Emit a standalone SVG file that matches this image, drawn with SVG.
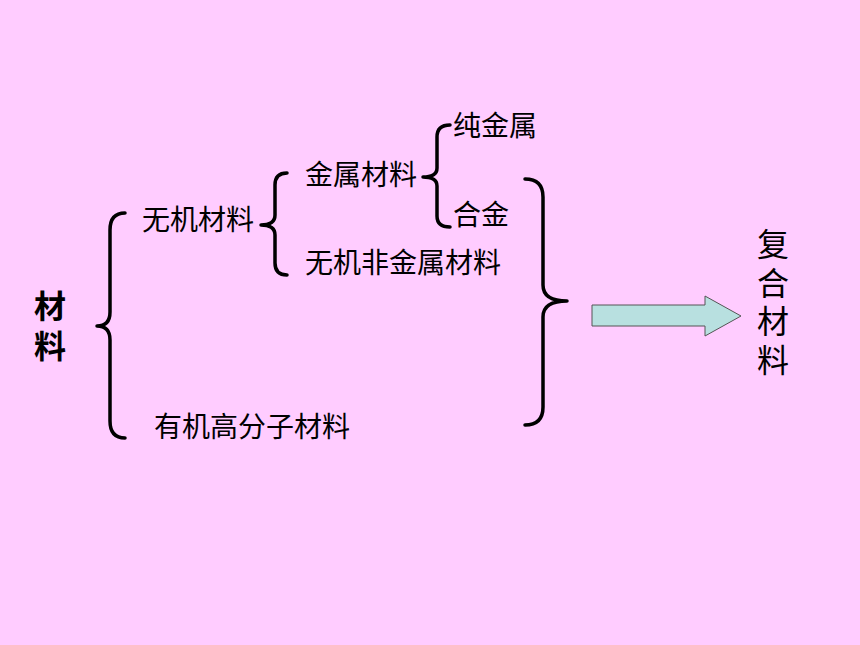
<svg xmlns="http://www.w3.org/2000/svg" width="860" height="645" viewBox="0 0 860 645">
<style>
.t{font-family:"Noto Sans CJK SC","Noto Sans CJK JP",sans-serif;font-size:28px;fill:#000}
.b{font-family:"Noto Sans CJK SC","Noto Sans CJK JP",sans-serif;font-size:32px;font-weight:bold;fill:#000;writing-mode:vertical-rl;letter-spacing:8px}
.v{font-family:"Noto Sans CJK SC","Noto Sans CJK JP",sans-serif;font-size:32px;fill:#000;writing-mode:vertical-rl;letter-spacing:6.5px}
.br{fill:none;stroke:#000;stroke-width:3.5;stroke-linecap:round;stroke-linejoin:round}
</style>
<rect width="860" height="645" fill="#FFCCFF"/>
<g id="connectors">
<path class="br" d="M125,213 Q110,213 110,230 L110,312 Q110,326 97,326 Q110,326 110,340 L110,421 Q110,438 125,438"/>
<path class="br" d="M287,173 Q275,173 275,185 L275,215 Q275,225 261,225 Q275,225 275,235 L275,263 Q275,275 287,275"/>
<path class="br" d="M450,125 Q437,125 437,137 L437,168 Q437,177 423,177 Q437,177 437,186 L437,216 Q437,227 450,227"/>
<path class="br" d="M525,179 Q543,179 543,197 L543,285 Q543,301 567,301 Q543,301 543,317 L543,407 Q543,425 525,425"/>
<polygon points="592,305 705,305 705,296 741,316 705,336 705,326 592,326" fill="#B8E0E0" stroke="#555" stroke-width="1"/>
</g>
<g id="n-cailiao"><text class="b" x="50" y="290">材料</text></g>
<g id="n-wuji"><text class="t" x="142" y="230">无机材料</text></g>
<g id="n-jinshu"><text class="t" x="305" y="185">金属材料</text></g>
<g id="n-chunjinshu"><text class="t" x="453" y="136">纯金属</text></g>
<g id="n-hejin"><text class="t" x="453" y="225">合金</text></g>
<g id="n-wujifei"><text class="t" x="305" y="273">无机非金属材料</text></g>
<g id="n-youji"><text class="t" x="154" y="437">有机高分子材料</text></g>
<g id="n-fuhe"><text class="v" x="773" y="228">复合材料</text></g>
</svg>
